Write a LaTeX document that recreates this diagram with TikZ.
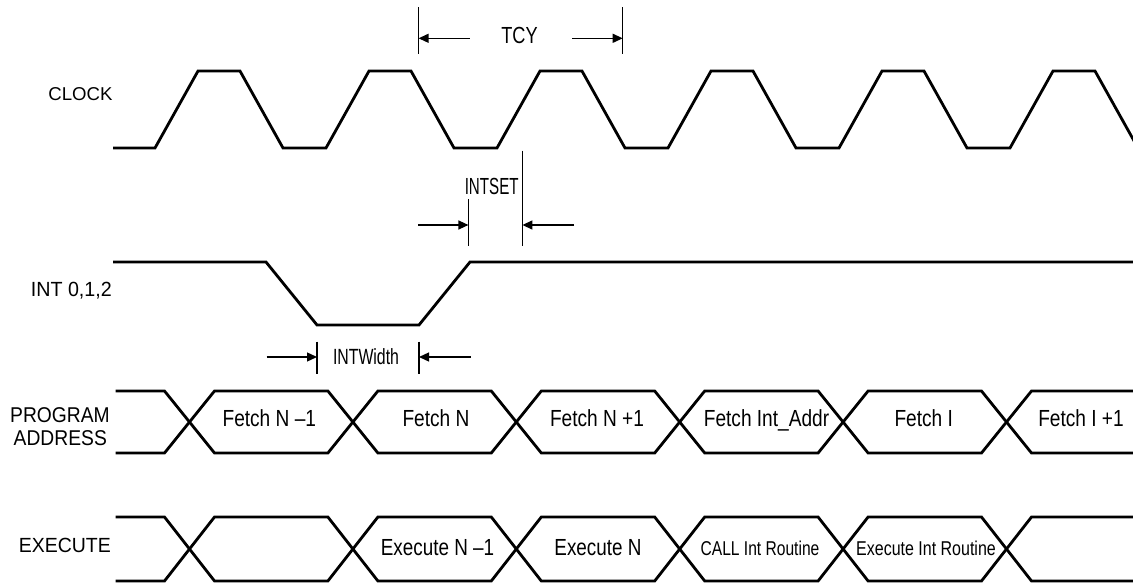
\documentclass[tikz,border=0pt]{standalone}
\usepackage{fontspec}
\setmainfont{Liberation Sans}
\usepackage{graphicx}
\usetikzlibrary{arrows.meta}
\newcommand\sxt[3]{\scalebox{#2}[1]{\fontsize{#1}{#1}\selectfont #3}}
\begin{document}
\begin{tikzpicture}[x=1pt,y=-1pt,
  sig/.style={line width=2.8pt},
  dimbar/.style={line width=1.3pt},
  dimarrow/.style={line width=1.3pt,-{Triangle[length=10pt,width=9pt]}},
  txt/.style={inner sep=0pt,anchor=base},
  lbl/.style={inner sep=0pt,anchor=base east}]
\useasboundingbox (0,0) rectangle (1133,586);
\clip (0,0) rectangle (1133,586);

% ---- CLOCK ----
\draw[sig] (113,148) -- (155,148) -- (198,71) -- (240,71) -- (283,148) -- (326,148)
  -- (369,71) -- (411,71) -- (454,148) -- (497,148) -- (540,71) -- (582,71) -- (625,148)
  -- (668,148) -- (711,71) -- (753,71) -- (796,148) -- (839,148) -- (882,71) -- (924,71)
  -- (967,148) -- (1010,148) -- (1053,71) -- (1095,71) -- (1138,148);

% ---- INT ----
\draw[sig] (113,262) -- (266,262) -- (317,325) -- (419,325) -- (470,262) -- (1140,262);

% ---- buses ----
\foreach \t/\b/\m in {391/453/422, 517/581/549} {
  \draw[sig] (115.5,\t) -- (164.5,\t) -- (189.5,\m) -- (164.5,\b) -- (115.5,\b);
  \foreach \a/\e in {189.5/352.9, 352.9/516.3, 516.3/679.7, 679.7/843.1, 843.1/1006.5}
    \draw[sig] (\a,\m) -- (\a+25,\t) -- (\e-25,\t) -- (\e,\m) -- (\e-25,\b) -- (\a+25,\b) -- cycle;
  \draw[sig] (1140,\t) -- (1031.5,\t) -- (1006.5,\m) -- (1031.5,\b) -- (1140,\b);
}

% ---- TCY dimension ----
\coordinate (tcyLt) at (418.6,7.3);   \coordinate (tcyLb) at (418.6,54);
\coordinate (tcyRt) at (622.7,7.3);   \coordinate (tcyRb) at (622.7,54);
\coordinate (tcyLa) at (469.6,38.3);  \coordinate (tcyLe) at (418.6,38.3);
\coordinate (tcyRa) at (572,38.3);    \coordinate (tcyRe) at (622.7,38.3);
\draw[dimbar] (tcyLt) -- (tcyLb);
\draw[dimbar] (tcyRt) -- (tcyRb);
\draw[dimarrow] (tcyLa) -- (tcyLe);
\draw[dimarrow] (tcyRa) -- (tcyRe);
\node[txt] (tcy) at (519.5,44) {\sxt{23.3}{0.78}{TCY}};

% ---- INTSET dimension ----
\coordinate (setLt) at (468.4,199);   \coordinate (setLb) at (468.4,245.7);
\coordinate (setRt) at (522.4,150.7); \coordinate (setRb) at (522.4,245.7);
\coordinate (setLa) at (418,225);     \coordinate (setLe) at (468.4,225);
\coordinate (setRa) at (574,225);     \coordinate (setRe) at (522.4,225);
\draw[dimbar] (setLt) -- (setLb);
\draw[dimbar] (setRt) -- (setRb);
\draw[dimarrow] (setLa) -- (setLe);
\draw[dimarrow] (setRa) -- (setRe);
\node[txt] (intset) at (491.7,194) {\sxt{23.3}{0.65}{INTSET}};

% ---- INTWidth dimension ----
\coordinate (wLt) at (317,341.7);  \coordinate (wLb) at (317,374);
\coordinate (wRt) at (419,341.7);  \coordinate (wRb) at (419,374);
\coordinate (wLa) at (266.7,357);  \coordinate (wLe) at (317,357);
\coordinate (wRa) at (470.7,357);  \coordinate (wRe) at (419,357);
\draw[dimbar] (wLt) -- (wLb);
\draw[dimbar] (wRt) -- (wRb);
\draw[dimarrow] (wLa) -- (wLe);
\draw[dimarrow] (wRa) -- (wRe);
\node[txt] (intwidth) at (366,364) {\sxt{22}{0.72}{INTWidth}};

% ---- signal labels ----
\node[lbl] (lclock) at (112.7,100.7) {\sxt{18.6}{1}{CLOCK}};
\node[lbl] (lint) at (112,296.7) {\sxt{20.5}{0.96}{INT 0,1,2}};
\node[txt] (lprog) at (60,422.7) {\sxt{21.4}{0.9}{PROGRAM}};
\node[txt] (laddr) at (60.3,445) {\sxt{21.4}{0.9}{ADDRESS}};
\node[lbl] (lexec) at (111,552.7) {\sxt{20.5}{0.95}{EXECUTE}};

% ---- bus contents ----
\node[txt] (f1) at (269.3,426.6) {\sxt{23.3}{0.82}{Fetch N –1}};
\node[txt] (f2) at (436,426.6) {\sxt{23.3}{0.82}{Fetch N}};
\node[txt] (f3) at (597,426.6) {\sxt{23.3}{0.82}{Fetch N +1}};
\node[txt] (f4) at (766.5,426.6) {\sxt{23.3}{0.82}{Fetch Int\_Addr}};
\node[txt] (f5) at (923.7,426.6) {\sxt{23.3}{0.82}{Fetch I}};
\node[txt] (f6) at (1081,426.6) {\sxt{23.3}{0.82}{Fetch I +1}};

\node[txt] (e1) at (437.5,555) {\sxt{23.3}{0.81}{Execute N –1}};
\node[txt] (e2) at (598,555) {\sxt{23.3}{0.81}{Execute N}};
\node[txt] (e3) at (760,555) {\sxt{20}{0.78}{CALL Int Routine}};
\node[txt] (e4) at (926,555) {\sxt{20}{0.8}{Execute Int Routine}};
\end{tikzpicture}
\end{document}
